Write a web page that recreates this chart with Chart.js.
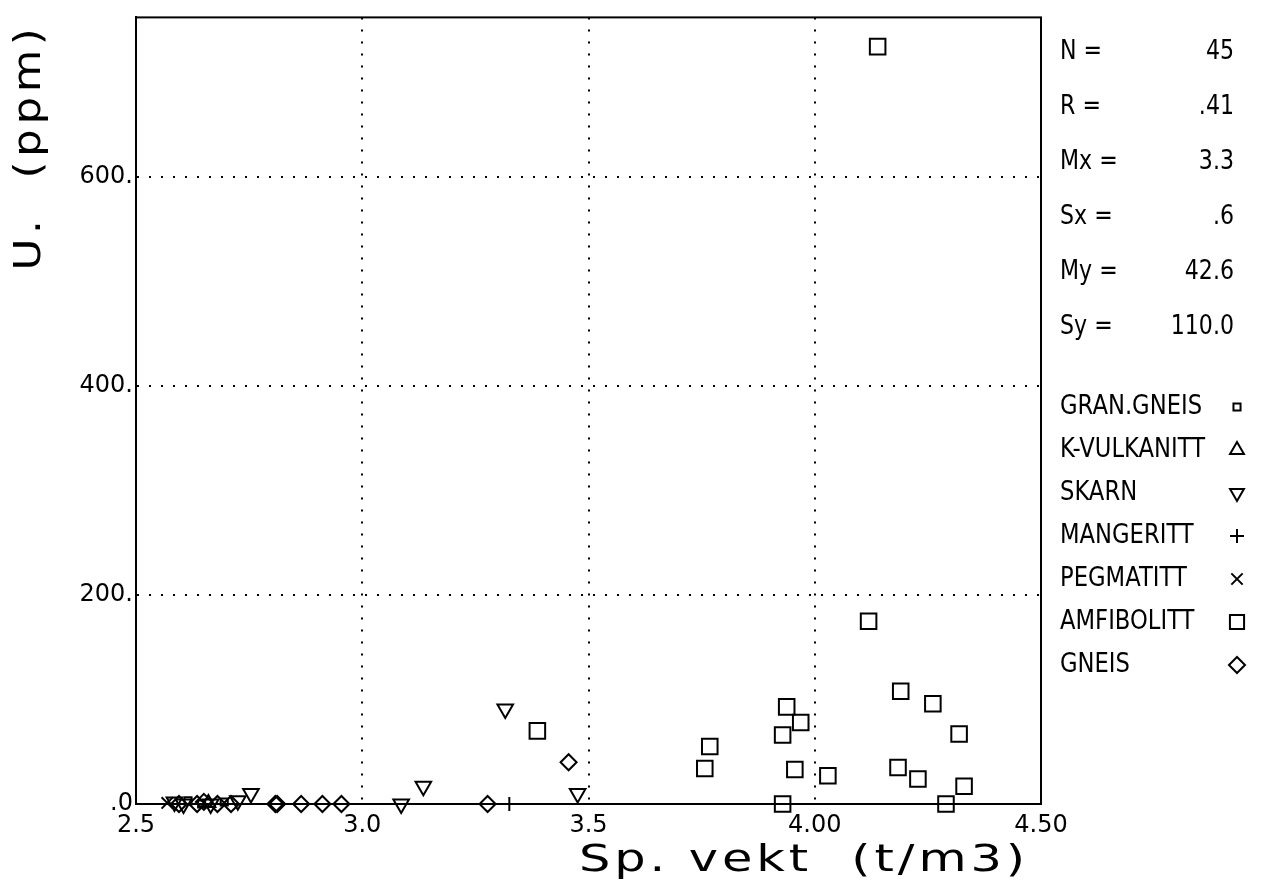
<!DOCTYPE html>
<html>
<head>
<meta charset="utf-8">
<title>U mot Sp. vekt</title>
<script src="https://cdn.jsdelivr.net/npm/chart.js@4.4.1/dist/chart.umd.min.js"></script>
<style>
  html, body { margin: 0; padding: 0; background: #fff; }
</style>
</head>
<body>
<canvas id="plot" width="1261" height="883"></canvas>
<script>
// verdier lest av fra plottet (U ppm mot spesifikk vekt)
const xTicks = [2.5, 3.0, 3.5, 4.0, 4.5];
const xTickLabels = ["2.5", "3.0", "3.5", "4.00", "4.50"];
const yTicks = [0, 200, 400, 600];
const yTickLabels = [".0", "200.", "400.", "600."];

const granGneisX = [2.615, 2.645, 2.695];
const granGneisY = [3, 0, 2];
const kVulkX = [2.66];
const kVulkY = [1];
const skarnX = [2.585, 2.605, 2.665, 2.725, 2.754, 3.086, 3.135, 3.316, 3.476];
const skarnY = [2, 0, 0, 3, 10, 0, 17, 91, 10];
const mangerittX = [3.325];
const mangerittY = [0];
const pegmatittX = [2.569];
const pegmatittY = [1];
const amfibolittX = [3.387, 3.757, 3.768, 3.929, 3.929, 3.938, 3.956, 3.969, 4.029,
  4.119, 4.139, 4.184, 4.190, 4.228, 4.261, 4.290, 4.319, 4.330];
const amfibolittY = [70, 34, 55, 66, 0, 93, 33, 78, 27, 175, 725, 35, 108, 24, 96, 0, 67, 17];
const gneisX = [2.595, 2.635, 2.650, 2.680, 2.710, 2.808, 2.812, 2.865, 2.912, 2.954, 3.277, 3.456];
const gneisY = [0, 0, 2, 0, 0, 0, 0, 0, 0, 0, 0, 40];

const statNames = ["N =", "R =", "Mx =", "Sx =", "My =", "Sy ="];
const statValues = ["45", ".41", "3.3", ".6", "42.6", "110.0"];

const FONT = "'DejaVu Sans', 'Liberation Sans', sans-serif";

function series(label, xs, ys, style, radius, rotation) {
  return {
    label: label,
    data: xs.map((x, i) => ({ x: x, y: ys[i] })),
    pointStyle: style,
    pointRadius: radius,
    pointHoverRadius: radius,
    pointRotation: rotation || 0,
    pointBorderColor: "#000",
    pointBackgroundColor: "rgba(0,0,0,0)",
    pointBorderWidth: 2,
    showLine: false,
    clip: false
  };
}

const datasets = [
  series("GRAN.GNEIS", granGneisX, granGneisY, "rect", 5),
  series("K-VULKANITT", kVulkX, kVulkY, "triangle", 8),
  series("SKARN", skarnX, skarnY, "triangle", 9, 180),
  series("MANGERITT", mangerittX, mangerittY, "cross", 7),
  series("PEGMATITT", pegmatittX, pegmatittY, "crossRot", 8),
  series("AMFIBOLITT", amfibolittX, amfibolittY, "rect", 11),
  series("GNEIS", gneisX, gneisY, "rectRot", 8)
];

// tekst med litt sperring, presset til gitt bredde
function spacedText(ctx, text, x, y, width, spacing) {
  ctx.save();
  if ("letterSpacing" in ctx) ctx.letterSpacing = spacing + "px";
  const w = ctx.measureText(text).width;
  ctx.translate(x, y);
  ctx.scale(width / w, 1);
  ctx.textAlign = "center";
  ctx.fillText(text, 0, 0);
  ctx.restore();
}

const extras = {
  id: "extras",
  afterDraw(chart) {
    const ctx = chart.ctx;
    const a = chart.chartArea;
    ctx.save();
    ctx.strokeStyle = "#000";
    ctx.lineWidth = 2;
    ctx.strokeRect(a.left, a.top, a.right - a.left, a.bottom - a.top);

    ctx.fillStyle = "#000";
    ctx.textBaseline = "middle";

    // aksetitler
    ctx.font = "38px " + FONT;
    spacedText(ctx, "Sp. vekt  (t/m3)", 804, 861, 450, 3);
    ctx.save();
    ctx.translate(30, 147);
    ctx.rotate(-Math.PI / 2);
    spacedText(ctx, "U.  (ppm)", 0, 0, 247, 4);
    ctx.restore();

    // statistikk
    ctx.font = "26px " + FONT;
    statNames.forEach((name, i) => {
      const y = 52 + i * 55;
      ctx.save();
      ctx.translate(1060, y);
      ctx.scale(0.85, 1);
      ctx.textAlign = "left";
      ctx.fillText(name, 0, 0);
      ctx.restore();
      ctx.save();
      ctx.translate(1234, y);
      ctx.scale(0.85, 1);
      ctx.textAlign = "right";
      ctx.fillText(statValues[i], 0, 0);
      ctx.restore();
    });

    // tegnforklaring
    ctx.font = "27px " + FONT;
    chart.data.datasets.forEach((ds, i) => {
      const y = 407 + i * 43;
      ctx.save();
      ctx.translate(1060, y);
      ctx.scale(0.84, 1);
      ctx.textAlign = "left";
      ctx.fillText(ds.label, 0, 0);
      ctx.restore();
      ctx.save();
      ctx.strokeStyle = "#000";
      ctx.fillStyle = "rgba(0,0,0,0)";
      ctx.lineWidth = 2;
      const r = ds.pointStyle === "rect" && ds.pointRadius > 6 ? 10 : Math.min(ds.pointRadius, 8);
      Chart.helpers.drawPoint(ctx, {
        pointStyle: ds.pointStyle,
        rotation: ds.pointRotation,
        radius: r,
        borderWidth: 2
      }, 1237, y);
      ctx.restore();
    });
    ctx.restore();
  }
};

function edgeColor(edges) {
  return c => (c.tick && edges.indexOf(c.tick.value) >= 0) ? "rgba(0,0,0,0)" : "#000";
}

new Chart(document.getElementById("plot"), {
  type: "scatter",
  data: { datasets: datasets },
  options: {
    responsive: false,
    animation: false,
    devicePixelRatio: 1,
    layout: { padding: { left: 0, top: 11, right: 220, bottom: 0 } },
    plugins: {
      legend: { display: false },
      tooltip: { enabled: false }
    },
    scales: {
      x: {
        type: "linear",
        min: 2.5,
        max: 4.5,
        afterBuildTicks: s => { s.ticks = xTicks.map(v => ({ value: v })); },
        afterFit: s => { s.height = 79; },
        ticks: {
          callback: (v, i) => xTickLabels[i],
          color: "#000",
          font: { family: FONT, size: 24 },
          padding: 7,
          maxRotation: 0,
          autoSkip: false
        },
        grid: { color: edgeColor([2.5, 4.5]), lineWidth: 2, drawTicks: false },
        border: { display: true, color: "#000", width: 2, dash: [2, 10] }
      },
      y: {
        type: "linear",
        min: 0,
        max: 753,
        afterBuildTicks: s => { s.ticks = yTicks.map(v => ({ value: v })); },
        afterFit: s => { s.width = 136; },
        ticks: {
          callback: (v, i) => yTickLabels[i],
          color: "#000",
          font: { family: FONT, size: 24 },
          padding: 3,
          autoSkip: false
        },
        grid: { color: edgeColor([0]), lineWidth: 2, drawTicks: false },
        border: { display: true, color: "#000", width: 2, dash: [2, 10] }
      }
    }
  },
  plugins: [extras]
});
</script>
</body>
</html>
